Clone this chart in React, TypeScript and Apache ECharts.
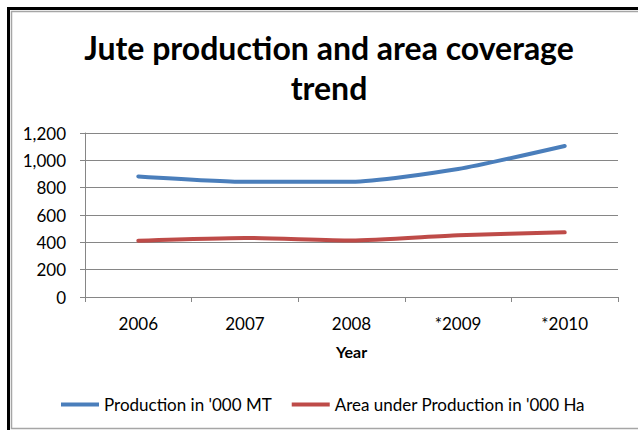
import React, { useEffect, useRef } from "react";
import * as echarts from "echarts";

const categories = ["2006", "2007", "2008", "*2009", "*2010"];
const production = [882, 843, 843, 936, 1105];
const area = [412, 432, 414, 452, 473];
const yTicks = { min: 0, max: 1200, interval: 200 };
const titleText = "Jute production and area coverage\ntrend";
const seriesNames = ["Production in '000 MT", "Area under Production in '000 Ha"];

export default function App() {
  const ref = useRef<HTMLDivElement>(null);
  useEffect(() => {
    if (!ref.current) return;
    const chart = echarts.init(ref.current, undefined, { renderer: "svg" });
    const font = "Lato, 'Open Sans', sans-serif";
    chart.setOption({
      animation: false,
      backgroundColor: "#ffffff",
      textStyle: { fontFamily: font },
      title: {
        text: titleText,
        left: 324,
        top: 22,
        textAlign: "center",
        textStyle: {
          fontFamily: font,
          fontSize: 32,
          fontWeight: "bold",
          color: "#000000",
          lineHeight: 40,
        },
      },
      legend: {
        left: 56,
        top: 391,
        itemWidth: 38,
        itemHeight: 4,
        itemGap: 20,
        icon: "rect",
        textStyle: { fontFamily: font, fontSize: 17, color: "#000000" },
        data: seriesNames,
      },
      grid: { left: 85, right: 20, top: 133, bottom: 133, containLabel: false },
      xAxis: {
        type: "category",
        data: categories,
        boundaryGap: true,
        name: "Year",
        nameLocation: "middle",
        nameGap: 46,
        nameTextStyle: { fontFamily: font, fontSize: 16, fontWeight: "bold", color: "#000" },
        axisLine: { lineStyle: { color: "#868686", width: 1 } },
        axisTick: { show: true, inside: false, length: 5, alignWithLabel: false, lineStyle: { color: "#868686" } },
        axisLabel: { fontFamily: font, fontSize: 17, color: "#000", margin: 18 },
        splitLine: { show: false },
      },
      yAxis: {
        type: "value",
        min: yTicks.min,
        max: yTicks.max,
        interval: yTicks.interval,
        axisLine: { show: true, lineStyle: { color: "#868686", width: 1 } },
        axisTick: { show: true, length: 5, lineStyle: { color: "#868686" } },
        axisLabel: {
          fontFamily: font,
          fontSize: 17,
          color: "#000",
          margin: 19,
          formatter: (v: number) => v.toLocaleString("en-US"),
        },
        splitLine: { show: true, lineStyle: { color: "#868686", width: 1 } },
      },
      series: [
        {
          name: seriesNames[0],
          type: "line",
          data: production,
          smooth: 0.2,
          symbol: "none",
          lineStyle: { color: "#4A7EBB", width: 4, cap: "round" },
          itemStyle: { color: "#4A7EBB" },
        },
        {
          name: seriesNames[1],
          type: "line",
          data: area,
          smooth: 0.2,
          symbol: "none",
          lineStyle: { color: "#BE4B48", width: 4, cap: "round" },
          itemStyle: { color: "#BE4B48" },
        },
      ],
      graphic: [
        {
          type: "polyline",
          silent: true,
          shape: { points: [[8.5, 432], [8.5, 8.5], [640, 8.5]] },
          style: { stroke: "#000000", lineWidth: 3, fill: null },
        },
        {
          type: "polyline",
          silent: true,
          shape: { points: [[640, 11.5], [11.5, 11.5], [11.5, 428.5], [640, 428.5]] },
          style: { stroke: "#A6A6A6", lineWidth: 1.5, fill: null },
        },
      ],
    });
    return () => chart.dispose();
  }, []);
  return (
    <div
      ref={ref}
      style={{ position: "absolute", left: 0, top: 0, width: 638, height: 430 }}
    />
  );
}
